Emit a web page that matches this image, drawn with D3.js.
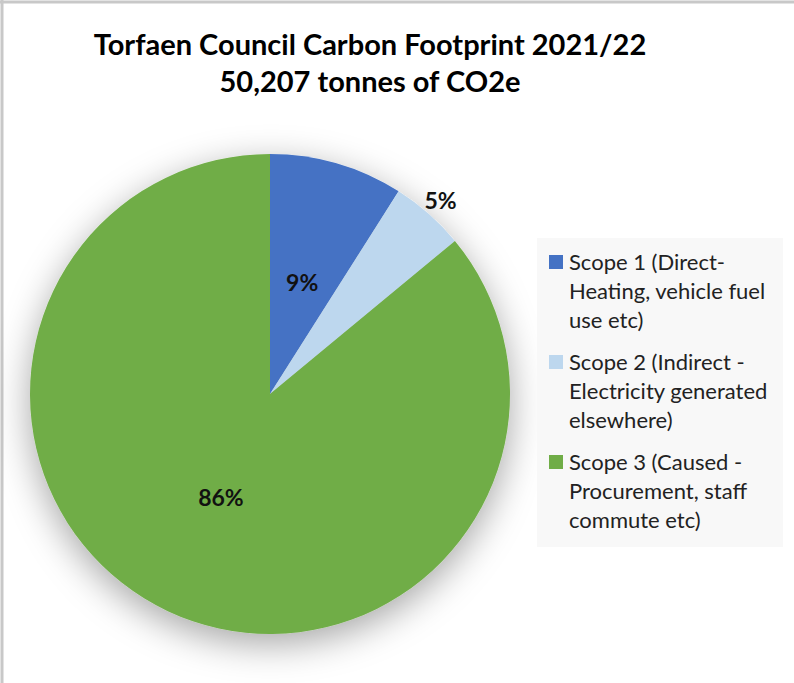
<!DOCTYPE html>
<html>
<head>
<meta charset="utf-8">
<script src="https://cdn.jsdelivr.net/npm/d3@7"></script>
<style>
  body { margin: 0; background: #fff; }
  svg { display: block; font-family: Lato, "Open Sans", sans-serif; }
</style>
</head>
<body>
<div id="chart"></div>
<script>
// chart data
var categories = ["Scope 1", "Scope 2", "Scope 3"];
var values = [9, 5, 86];
var colours = ["#4472c4", "#bdd7ee", "#70ad47"];
var legendLines = [
  ["Scope 1 (Direct-", "Heating, vehicle fuel", "use etc)"],
  ["Scope 2 (Indirect -", "Electricity generated", "elsewhere)"],
  ["Scope 3 (Caused -", "Procurement, staff", "commute etc)"]
];
var titleLines = ["Torfaen Council Carbon Footprint 2021/22", "50,207 tonnes of CO2e"];

var width = 794;
var height = 683;

var svg = d3.select("#chart")
  .append("svg")
  .attr("width", width)
  .attr("height", height);

// soft shadow under the pie
var defs = svg.append("defs");
var shadow = defs.append("filter")
  .attr("id", "shadow")
  .attr("x", "-30%").attr("y", "-30%")
  .attr("width", "160%").attr("height", "160%");
shadow.append("feDropShadow")
  .attr("dx", 0).attr("dy", 10)
  .attr("stdDeviation", 18)
  .attr("flood-color", "#000")
  .attr("flood-opacity", 0.35);

// frame (only top and left show)
svg.append("line").attr("x1", 0).attr("x2", width).attr("y1", 2).attr("y2", 2)
  .attr("stroke", "#c8c8c8").attr("stroke-width", 3);
svg.append("line").attr("x1", 2).attr("x2", 2).attr("y1", 0).attr("y2", height)
  .attr("stroke", "#c8c8c8").attr("stroke-width", 3);

// title
svg.append("g")
  .selectAll("text")
  .data(titleLines)
  .enter()
  .append("text")
  .attr("x", 370)
  .attr("y", function(d, i) { return 55 + i * 37; })
  .attr("text-anchor", "middle")
  .attr("font-size", 29)
  .attr("font-weight", "bold")
  .attr("fill", "#000")
  .text(function(d) { return d; });

// pie
var cx = 270, cy = 394, radius = 240;

var pie = d3.pie().sort(null).value(function(d) { return d; });
var arc = d3.arc().innerRadius(0).outerRadius(radius);
var arcs = pie(values);

var pieG = svg.append("g")
  .attr("transform", "translate(" + cx + "," + cy + ")");

pieG.append("g")
  .attr("filter", "url(#shadow)")
  .selectAll("path")
  .data(arcs)
  .enter()
  .append("path")
  .attr("d", arc)
  .attr("fill", function(d, i) { return colours[i]; });

// data labels
var labelPos = [
  d3.arc().innerRadius(radius * 0.48).outerRadius(radius * 0.48),
  d3.arc().innerRadius(radius * 1.075).outerRadius(radius * 1.075),
  d3.arc().innerRadius(radius * 0.48).outerRadius(radius * 0.48)
];
pieG.selectAll("text.lbl")
  .data(arcs)
  .enter()
  .append("text")
  .attr("class", "lbl")
  .attr("transform", function(d, i) {
    var c = labelPos[i].centroid(d);
    return "translate(" + c[0] + "," + c[1] + ")";
  })
  .attr("text-anchor", "middle")
  .attr("dy", "0.35em")
  .attr("font-size", 23)
  .attr("font-weight", "bold")
  .attr("fill", "#111")
  .text(function(d) { return d.data + "%"; });

// legend
var legend = svg.append("g");
legend.append("rect")
  .attr("x", 537).attr("y", 238)
  .attr("width", 246).attr("height", 309)
  .attr("fill", "#f8f8f8");

var items = legend.selectAll("g.item")
  .data(categories)
  .enter()
  .append("g")
  .attr("class", "item")
  .attr("transform", function(d, i) { return "translate(549," + (262 + i * 100) + ")"; });

items.append("rect")
  .attr("x", 0).attr("y", -7)
  .attr("width", 14).attr("height", 14)
  .attr("fill", function(d, i) { return colours[i]; });

items.selectAll("text")
  .data(function(d, i) { return legendLines[i]; })
  .enter()
  .append("text")
  .attr("x", 20)
  .attr("y", function(d, j) { return j * 29; })
  .attr("dy", "0.35em")
  .attr("font-size", 22)
  .attr("fill", "#222")
  .text(function(d) { return d; });
</script>
</body>
</html>
